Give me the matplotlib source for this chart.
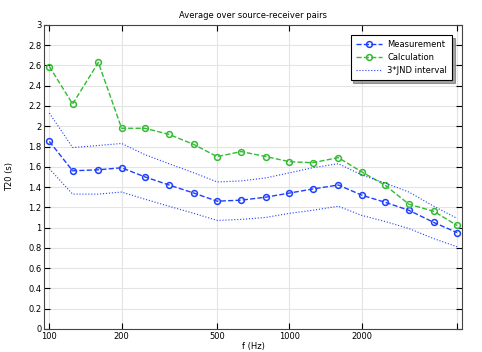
import matplotlib.pyplot as plt

freqs = [100, 125, 160, 200, 250, 315, 400, 500, 630, 800, 1000, 1250, 1600, 2000, 2500, 3150, 4000, 5000]
measurement = [1.85, 1.56, 1.57, 1.59, 1.50, 1.42, 1.34, 1.26, 1.27, 1.30, 1.34, 1.38, 1.42, 1.32, 1.25, 1.17, 1.05, 0.95]
calculation = [2.59, 2.22, 2.63, 1.98, 1.98, 1.92, 1.82, 1.70, 1.75, 1.70, 1.65, 1.64, 1.69, 1.55, 1.42, 1.23, 1.16, 1.02]
jnd_upper = [2.13, 1.79, 1.81, 1.83, 1.72, 1.63, 1.54, 1.45, 1.46, 1.49, 1.54, 1.59, 1.63, 1.52, 1.44, 1.35, 1.21, 1.09]
jnd_lower = [1.58, 1.33, 1.33, 1.35, 1.28, 1.21, 1.14, 1.07, 1.08, 1.10, 1.14, 1.17, 1.21, 1.12, 1.06, 0.99, 0.89, 0.81]
xticks = [100, 200, 500, 1000, 2000, 5000]
xticklabels = ['100', '200', '500', '1000', '2000', '']

plt.rcParams['font.size'] = 6
fig = plt.figure(figsize=(4.82, 3.52), dpi=100)
ax = fig.add_axes([0.092, 0.066, 0.866, 0.863])

blue = '#1f3fff'
green = '#33bb33'
ax.plot(freqs, measurement, '--', color=blue, marker='o', mfc='none', ms=4.2, mew=1.1, lw=1, label='Measurement')
ax.plot(freqs, calculation, '--', color=green, marker='o', mfc='none', ms=4.2, mew=1.1, lw=1, label='Calculation')
ax.plot(freqs, jnd_upper, ':', color=blue, lw=0.8, label='3*JND interval')
ax.plot(freqs, jnd_lower, ':', color=blue, lw=0.8)

ax.set_xscale('log')
ax.set_xlim(95.3, 5230)
ax.set_ylim(0, 3)
ax.set_xticks(xticks)
ax.set_xticklabels(xticklabels)
ax.minorticks_off()
ax.set_yticks([i * 0.2 for i in range(16)])
ax.set_yticklabels(['0', '0.2', '0.4', '0.6', '0.8', '1', '1.2', '1.4', '1.6', '1.8', '2',
                    '2.2', '2.4', '2.6', '2.8', '3'])
ax.tick_params(direction='in', top=True, right=True, length=4, pad=2)
ax.grid(True, color='#e4e4e4', lw=0.8)
ax.set_axisbelow(True)
for s in ax.spines.values():
    s.set_color('#444444')

ax.set_title('Average over source-receiver pairs', fontsize=6, pad=5)
ax.set_xlabel('f (Hz)', labelpad=1)
ax.set_ylabel('T20 (s)', labelpad=10)

leg = ax.legend(loc='upper right', bbox_to_anchor=(0.977, 0.967), fancybox=False, shadow=True,
                edgecolor='black', framealpha=1, handlelength=3.2, handletextpad=0.6,
                labelspacing=0.5, borderpad=0.6, borderaxespad=0)
leg.get_frame().set_linewidth(0.8)

plt.savefig('out.png')
